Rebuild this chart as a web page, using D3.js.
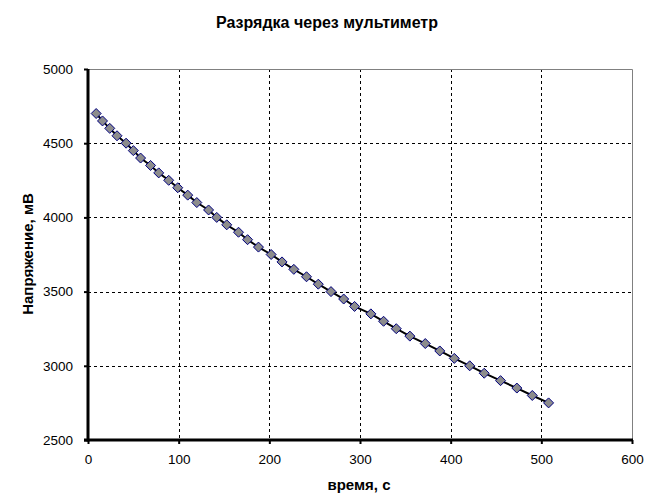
<!DOCTYPE html>
<html>
<head>
<meta charset="utf-8">
<script src="https://cdn.jsdelivr.net/npm/d3@7"></script>
<style>
  body { margin: 0; background: #fff; }
  text { font-family: "Liberation Sans", Arial, sans-serif; fill: #000; }
</style>
</head>
<body>
<svg id="chart" width="649" height="502"></svg>
<script>
// данные: время (с) и напряжение (мВ)
var times = [9, 16, 24, 32, 42, 50, 58, 69, 78, 89,
             99, 110, 120, 133, 142, 153, 166, 176, 188, 202,
             214, 227, 241, 254, 268, 282, 294, 312, 326, 340,
             355, 372, 388, 404, 421, 437, 455, 473, 490, 508];
var volts = [4700, 4650, 4600, 4550, 4500, 4450, 4400, 4350, 4300, 4250,
             4200, 4150, 4100, 4050, 4000, 3950, 3900, 3850, 3800, 3750,
             3700, 3650, 3600, 3550, 3500, 3450, 3400, 3350, 3300, 3250,
             3200, 3150, 3100, 3050, 3000, 2950, 2900, 2850, 2800, 2750];
var xTicks = [0, 100, 200, 300, 400, 500, 600];
var yTicks = [2500, 3000, 3500, 4000, 4500, 5000];

var svg = d3.select("#chart");

// plot area edges ("top" is taken by window.top)
var pLeft = 88, pRight = 632, pTop = 69, pBottom = 440;

var x = d3.scaleLinear().domain([0, 600]).range([pLeft, pRight]);
var y = d3.scaleLinear().domain([2500, 5000]).range([pBottom, pTop]);

var data = times.map(function (t, i) { return { t: t, v: volts[i] }; });

// grid
svg.append("g")
    .selectAll("line")
    .data(xTicks.slice(1, -1))
    .enter().append("line")
    .attr("x1", function (d) { return Math.round(x(d)) + 0.5; })
    .attr("x2", function (d) { return Math.round(x(d)) + 0.5; })
    .attr("y1", pTop)
    .attr("y2", pBottom)
    .style("stroke", "#000")
    .style("stroke-width", 1)
    .style("stroke-dasharray", "3,3")

svg.append("g")
    .selectAll("line")
    .data(yTicks.slice(1, -1))
    .enter().append("line")
    .attr("y1", function (d) { return Math.round(y(d)) + 0.5; })
    .attr("y2", function (d) { return Math.round(y(d)) + 0.5; })
    .attr("x1", pLeft)
    .attr("x2", pRight)
    .style("stroke", "#000")
    .style("stroke-width", 1)
    .style("stroke-dasharray", "3,3")

// top / right border
svg.append("path")
    .attr("d", "M" + pLeft + "," + (pTop + 0.5) + "H" + (pRight + 0.5) + "V" + pBottom)
    .style("fill", "none")
    .style("stroke", "#808080")
    .style("stroke-width", 1)

// axes
var xAxis = svg.append("g")
    .attr("transform", "translate(0," + pBottom + ")")
    .call(d3.axisBottom(x).tickValues(xTicks).tickSize(4).tickPadding(10).tickFormat(d3.format("d")))
xAxis.select(".domain").remove()
xAxis.selectAll(".tick line").style("stroke", "#000").style("stroke-width", 2)
xAxis.selectAll("text").style("font-size", "13.5px").attr("fill", "#000")

var yAxis = svg.append("g")
    .attr("transform", "translate(" + pLeft + ",0)")
    .call(d3.axisLeft(y).tickValues(yTicks).tickSize(4).tickPadding(11).tickFormat(d3.format("d")))
yAxis.select(".domain").remove()
yAxis.selectAll(".tick line").style("stroke", "#000").style("stroke-width", 2)
yAxis.selectAll("text").style("font-size", "13.5px").attr("fill", "#000")

svg.append("line")
    .attr("x1", pLeft - 4).attr("x2", pRight + 1)
    .attr("y1", pBottom).attr("y2", pBottom)
    .style("stroke", "#000").style("stroke-width", 3)

svg.append("line")
    .attr("x1", pLeft).attr("x2", pLeft)
    .attr("y1", pTop).attr("y2", pBottom + 1.5)
    .style("stroke", "#000").style("stroke-width", 3)

// series line
var line = d3.line()
    .x(function (d) { return x(d.t); })
    .y(function (d) { return y(d.v); })

svg.append("path")
    .datum(data)
    .attr("d", line)
    .style("fill", "none")
    .style("stroke", "#000")
    .style("stroke-width", 2)

// markers
svg.append("g")
    .selectAll("path")
    .data(data)
    .enter().append("path")
    .attr("transform", function (d) { return "translate(" + x(d.t) + "," + y(d.v) + ")"; })
    .attr("d", "M0,-5L5,0L0,5L-5,0Z")
    .style("fill", "#8c8c8c")
    .style("stroke", "#000080")
    .style("stroke-width", 1)

// titles
svg.append("text")
    .attr("x", 327)
    .attr("y", 28)
    .style("text-anchor", "middle")
    .style("font-size", "16px")
    .style("font-weight", "bold")
    .text("Разрядка через мультиметр")

svg.append("text")
    .attr("x", 359)
    .attr("y", 490)
    .style("text-anchor", "middle")
    .style("font-size", "15px")
    .style("font-weight", "bold")
    .text("время, с")

svg.append("text")
    .attr("transform", "translate(33,254) rotate(-90)")
    .style("text-anchor", "middle")
    .style("font-size", "15px")
    .style("font-weight", "bold")
    .text("Напряжение, мВ")
</script>
</body>
</html>
